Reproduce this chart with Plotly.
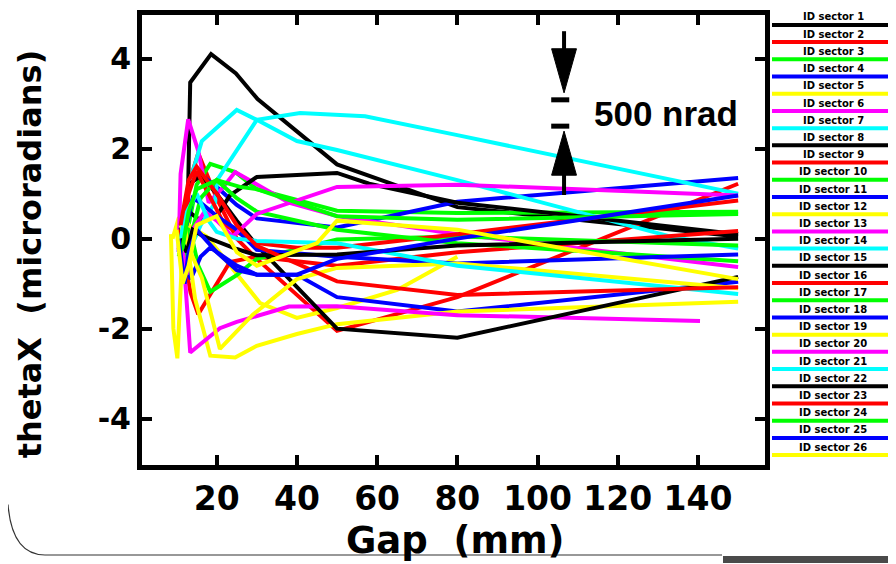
import plotly.graph_objects as go

# ---------------- data ----------------
series_names = [f"ID sector {i}" for i in range(1, 27)]

series_gaps = [
    [12.2, 12.9, 13.4, 18.6, 24.8, 30.2, 50, 80, 150],
    [10.5, 12, 13, 15.4, 20, 25, 30, 50, 80, 150],
    [10.5, 12, 13, 15, 18.4, 24.6, 30, 50, 80, 150],
    [11, 12, 13, 15.5, 20, 25, 30, 50, 80, 150],
    [9, 10.5, 11.5, 13, 17.5, 25, 30.8, 40, 50, 65, 80],
    [10.5, 11, 12.9, 15.4, 18, 21.5, 24.6, 30, 38, 50, 80, 150],
    [11, 13.4, 16.3, 25, 30, 40, 50, 80, 133, 150],
    [11, 13, 16, 20, 23.3, 30, 50, 58, 80, 150],
    [10.5, 12, 13.5, 15.4, 20, 23.3, 30, 50, 80, 150],
    [10.5, 11.6, 13.9, 15.4, 18.4, 25, 30, 50, 80, 150],
    [10.5, 12, 13.5, 16, 18.4, 25, 30, 40, 50, 80, 150],
    [8.6, 9.2, 10.2, 11.8, 13, 14.6, 18.4, 24.6, 30, 40, 50, 80, 150],
    [10.8, 11.5, 12.2, 13.4, 20.8, 25, 38, 50, 80, 140.5],
    [11, 13, 16, 19.6, 20.1, 30, 40.8, 57, 80, 150],
    [11, 13, 16, 20, 25, 30, 50, 80, 150],
    [11, 13, 15, 18, 22, 30, 40, 50, 80, 150],
    [11, 12.5, 14, 16, 20, 25, 30, 50, 80, 150],
    [11, 12.5, 14, 16, 20, 25, 30, 50, 80, 150],
    [11, 13, 16.3, 20.8, 29, 40, 50, 80, 150],
    [11, 12.5, 14, 17, 20, 24, 30, 50, 80, 150],
    [10.5, 12, 15, 18, 20, 25, 30, 50, 80, 150],
    [11, 12.5, 14, 16.3, 25, 30, 50, 80, 150],
    [11, 13, 15, 20, 25, 30, 50, 80, 150],
    [10.5, 11.5, 13, 15, 20, 25.8, 30, 50, 80, 150],
    [10.5, 12, 13, 15, 20, 25, 30, 40, 50, 80, 150],
    [10, 11.5, 13, 15, 20, 25, 30, 45, 50, 80, 150],
]

series_theta = [
    [0.1, 1.2, 3.47, 4.1, 3.67, 3.1, 1.65, 0.7, 0.05],
    [0.0, -1.0, 1.2, 1.9, 0.9, 0.0, -0.45, -2.05, -1.3, 1.22],
    [-0.3, -0.5, 0.3, 1.2, 1.66, 1.48, 1.1, 0.62, 0.57, 0.6],
    [0.0, 0.5, 1.2, 1.45, 1.15, 0.75, 0.45, 0.25, 0.82, 1.35],
    [0.0, 0.45, 0.55, 0.3, 0.05, -0.8, -1.43, -1.76, -1.54, -1.14, -0.4],
    [-0.3, 1.44, 2.65, 1.95, 0.8, 1.13, 1.48, 1.2, 0.8, 0.5, 0.1, -0.63],
    [0.2, 1.3, 2.17, 2.86, 2.64, 2.17, 1.97, 1.3, 0.05, -0.22],
    [0.0, 0.6, 0.4, 0.5, 0.96, 1.37, 1.46, 1.22, 0.8, 0.1],
    [0.2, -0.5, -1.2, -1.68, -1.0, -0.52, -0.4, -0.6, -0.3, 0.17],
    [-0.2, -0.52, 0.0, -0.6, -1.18, -0.81, -0.45, -0.02, 0.05, -0.15],
    [0.0, -0.5, -0.9, -0.4, -0.2, -0.6, -0.8, -0.8, -1.3, -1.62, -0.96],
    [0.1, -2.0, -2.66, 0.4, -0.3, -1.33, -2.6, -2.64, -2.38, -2.12, -1.9, -1.62, -1.4],
    [0.0, -0.9, -1.0, -2.53, -1.99, -1.85, -1.51, -1.5, -1.7, -1.83],
    [0.0, -0.3, 0.3, 0.8, 1.3, 2.64, 2.79, 2.72, 2.3, 1.0],
    [0.2, 1.2, 1.4, 1.0, 0.4, -0.15, -2.0, -2.2, -0.85],
    [0.0, 1.0, 1.5, 1.0, 0.3, -0.1, -0.2, -0.2, 0.1, 0.85],
    [0.0, -0.4, 0.2, 0.9, 1.3, 0.9, 0.6, 0.2, -0.1, -0.5],
    [0.0, 0.3, 0.9, 0.8, 0.5, 0.2, -0.25, -0.4, -0.55, -0.35],
    [0.3, -0.2, -0.87, -2.45, -1.69, -0.9, -0.65, -0.55, -1.1],
    [0.0, -0.8, 0.2, 0.6, 0.4, 0.05, 0.55, 1.15, 1.2, 0.96],
    [-0.3, 0.5, 1.0, 0.4, 0.15, 0.0, -0.05, -0.1, -0.6, -1.23],
    [0.0, -0.3, 0.2, 0.07, -0.23, -0.37, -0.35, -0.15, 0.0],
    [0.3, 1.3, 1.6, 1.0, 0.3, -0.16, -0.95, -1.25, -1.08],
    [-0.4, -0.2, 0.6, 1.1, 1.3, 1.15, 1.1, 0.5, 0.42, 0.55],
    [0.0, -1.0, -0.3, 0.2, -0.3, -0.7, -0.8, -0.8, -0.45, 0.0, 0.96],
    [0.2, -1.0, -0.6, 0.3, 0.5, -0.3, -0.6, -0.1, 0.4, 0.2, -0.9],
]

x_tick_vals = [20, 40, 60, 80, 100, 120, 140]
x_tick_text = ["20", "40", "60", "80", "100", "120", "140"]
y_tick_vals = [-4, -2, 0, 2, 4]
y_tick_text = ["-4", "-2", "0", "2", "4"]

color_cycle = ["#000000", "#ff0000", "#00ff00", "#0000ff", "#ffff00", "#ff00ff", "#00ffff"]

# ---------------- layout geometry ----------------
# the page body adds an 8px margin, so the figure is 8px smaller and all
# page-pixel positions are shifted by that offset
OFF = 8
PAGE_W, PAGE_H = 896, 564
W, H = PAGE_W - OFF, PAGE_H - OFF
PL, PR, PT, PB = 142, 765, 10, 465  # plot area edges in page px


def px_to_paper(px, py):
    return (px - PL) / (PR - PL), (PB - py) / (PB - PT)


fig = go.Figure()
for i, (name, gx, ty) in enumerate(zip(series_names, series_gaps, series_theta)):
    fig.add_trace(go.Scatter(
        x=gx, y=ty, mode="lines", name=name,
        line=dict(color=color_cycle[i % len(color_cycle)], width=4),
        showlegend=False,
    ))

shapes = []
annotations = []

# custom legend: label text above a long coloured line
for i, name in enumerate(series_names):
    ly = 20 + i * 17.4
    x0, y0 = px_to_paper(772, ly)
    x1, _ = px_to_paper(895, ly)
    shapes.append(dict(type="line", xref="paper", yref="paper", x0=x0, x1=x1, y0=y0, y1=y0,
                       line=dict(color=color_cycle[i % len(color_cycle)], width=4)))
    tx, ty_ = px_to_paper(833, ly - 8)
    annotations.append(dict(xref="paper", yref="paper", x=tx, y=ty_, text=name, showarrow=False,
                            xanchor="center", yanchor="middle",
                            font=dict(family="DejaVu Sans", size=10, color="black", weight="bold")))

# 500 nrad scale marker (data coordinates)
ax_ = 106.6
shapes += [
    dict(type="line", xref="x", yref="y", x0=ax_, x1=ax_, y0=4.61, y1=4.15, line=dict(color="black", width=4)),
    dict(type="path", xref="x", yref="y", path=f"M {ax_-3.1},4.22 L {ax_+3.1},4.22 L {ax_},3.24 Z",
         fillcolor="black", line=dict(color="black", width=1)),
    dict(type="line", xref="x", yref="y", x0=103.4, x1=107.9, y0=3.085, y1=3.085, line=dict(color="black", width=5)),
    dict(type="line", xref="x", yref="y", x0=103.4, x1=107.9, y0=2.50, y1=2.50, line=dict(color="black", width=5)),
    dict(type="path", xref="x", yref="y", path=f"M {ax_-3.1},1.41 L {ax_+3.1},1.41 L {ax_},2.39 Z",
         fillcolor="black", line=dict(color="black", width=1)),
    dict(type="line", xref="x", yref="y", x0=ax_, x1=ax_, y0=1.45, y1=0.97, line=dict(color="black", width=4)),
]
annotations.append(dict(xref="x", yref="y", x=132.0, y=2.78, text="500 nrad", showarrow=False,
                        xanchor="center", yanchor="middle",
                        font=dict(family="Liberation Sans", size=35, color="black", weight="bold")))

# axis titles
tx, ty_ = px_to_paper(455, 541)
annotations.append(dict(xref="paper", yref="paper", x=tx, y=ty_, text="Gap  (mm)", showarrow=False,
                        xanchor="center", yanchor="middle",
                        font=dict(family="DejaVu Sans", size=37, color="black", weight="bold")))
tx, ty_ = px_to_paper(30, 252)
annotations.append(dict(xref="paper", yref="paper", x=tx, y=ty_, text="thetaX  (microradians)",
                        showarrow=False, textangle=-90, xanchor="center", yanchor="middle",
                        font=dict(family="DejaVu Sans", size=32, color="black", weight="bold")))

# window frame remnants at the bottom
fx0, fy0 = px_to_paper(OFF, 505)
fcx, fcy = px_to_paper(12, 556)
fx1, fy1 = px_to_paper(45, 556)
fx2, _ = px_to_paper(722, 556)
shapes.append(dict(type="path", xref="paper", yref="paper",
                   path=f"M {fx0},{fy0} Q {fcx},{fcy} {fx1},{fy1} L {fx2},{fy1}",
                   line=dict(color="#333333", width=1.2)))
gx0, gy0 = px_to_paper(723, 557)
gx1, gy1 = px_to_paper(896, 564)
shapes.append(dict(type="rect", xref="paper", yref="paper", x0=gx0, x1=gx1, y0=gy0, y1=gy1,
                   fillcolor="#4a4a4a", line=dict(width=0)))

fig.update_layout(
    width=W, height=H,
    margin=dict(l=PL - OFF, r=W - (PR - OFF), t=PT - OFF, b=H - (PB - OFF)),
    paper_bgcolor="white", plot_bgcolor="white",
    showlegend=False,
    shapes=shapes, annotations=annotations,
    xaxis=dict(range=[1.38, 156.7], tickvals=x_tick_vals, ticktext=x_tick_text,
               showgrid=False, zeroline=False, showline=True, linecolor="black", linewidth=5,
               mirror="ticks", ticks="inside", ticklen=10, tickwidth=4, tickcolor="black",
               tickfont=dict(family="DejaVu Sans", size=33, color="black", weight="bold")),
    yaxis=dict(range=[-5.03, 4.97], tickvals=y_tick_vals, ticktext=y_tick_text,
               showgrid=False, zeroline=False, showline=True, linecolor="black", linewidth=5,
               mirror="ticks", ticks="inside", ticklen=10, tickwidth=4, tickcolor="black",
               tickfont=dict(family="DejaVu Sans", size=30, color="black", weight="bold")),
)

fig.write_html("out.html")
